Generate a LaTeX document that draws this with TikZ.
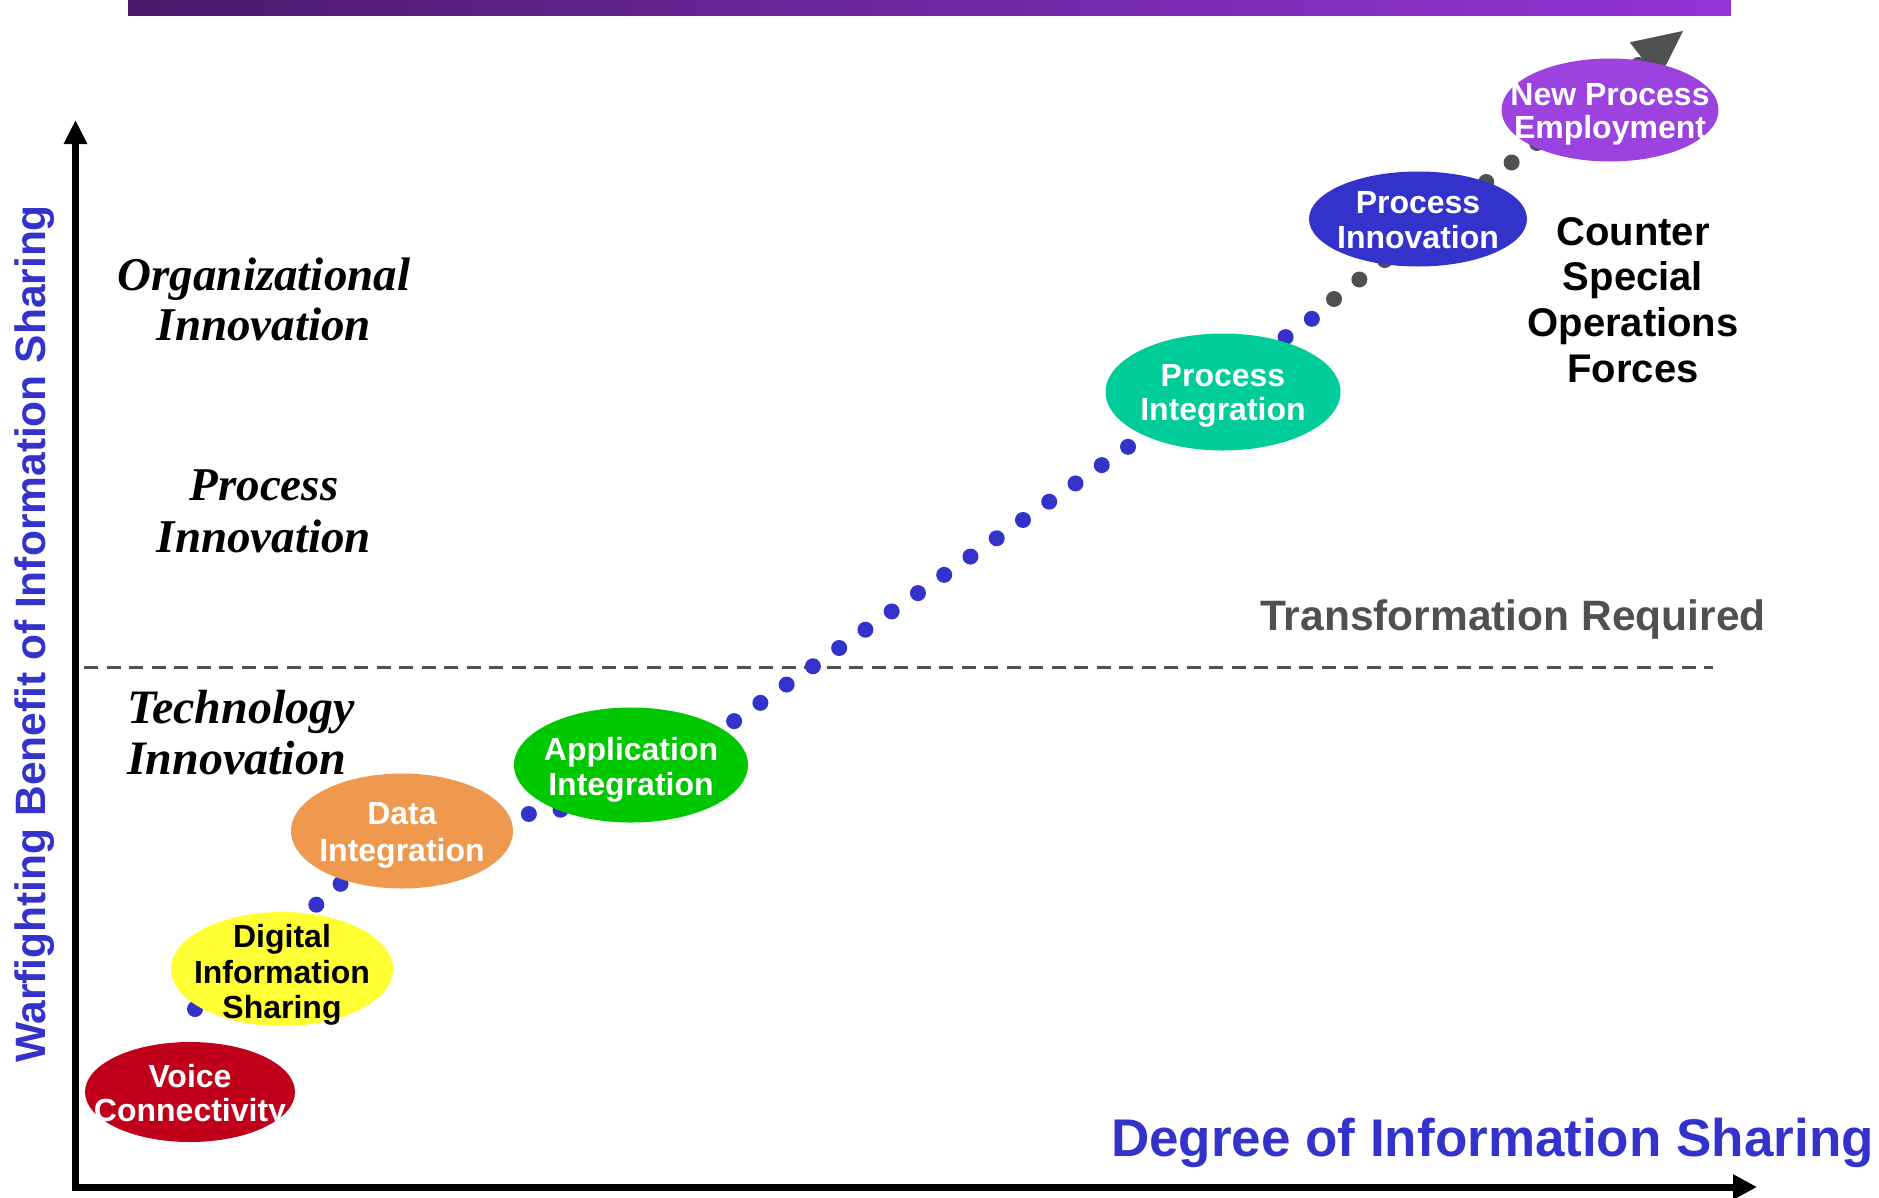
\documentclass[tikz,border=0pt]{standalone}
\usepackage{fontspec}
\setmainfont{Liberation Sans}
\newfontfamily\serifbi{Liberation Serif}
\usetikzlibrary{arrows.meta,shapes.geometric,backgrounds}
\definecolor{barleft}{HTML}{4A1A6A}
\definecolor{barright}{HTML}{9335D8}
\definecolor{cvoice}{HTML}{C0001A}
\definecolor{cdigital}{HTML}{FFFF33}
\definecolor{cdata}{HTML}{EE994D}
\definecolor{capp}{HTML}{00C800}
\definecolor{cpint}{HTML}{00CC99}
\definecolor{cpinn}{HTML}{3333CC}
\definecolor{cnew}{HTML}{9C42DE}
\definecolor{dotblue}{HTML}{3333CC}
\definecolor{dotgray}{HTML}{505050}
\begin{document}
\begin{tikzpicture}[x=1pt,y=-1pt,
  blob/.style={ellipse, inner sep=0pt, draw=none},
  etext/.style={text=white, font=\fontsize{32}{34.5}\selectfont\bfseries, align=center, inner sep=0pt, yshift=-4pt},
  bluedots/.style={draw=dotblue, line width=16pt, line cap=round, dash pattern=on 0pt off 32pt},
  graydots/.style={bluedots, draw=dotgray},
  axisline/.style={line width=7pt, line join=miter, draw=black},
  seriflabel/.style={font=\serifbi\bfseries\itshape\fontsize{47}{50}\selectfont, inner sep=0pt},
  sanslabel/.style={font=\fontsize{40}{45.7}\selectfont\bfseries, inner sep=0pt},
]
\useasboundingbox (0,0) rectangle (1879,1197);

% top bar
\shade[left color=barleft, right color=barright] (128,0) rectangle (1731,15.5);

% ellipses
\node[blob, fill=cvoice,   minimum width=210pt, minimum height=100pt] (voice)   at (190,1092) {};
\node[blob, fill=cdigital, minimum width=222pt, minimum height=114pt] (digital) at (282,969) {};
\node[blob, fill=cdata,    minimum width=222pt, minimum height=115pt] (data)    at (402,831) {};
\node[blob, fill=capp,     minimum width=234pt, minimum height=115pt] (app)     at (631,765) {};
\node[blob, fill=cpint,    minimum width=235pt, minimum height=117pt] (pint)    at (1223,392) {};
\node[blob, fill=cpinn,    minimum width=218pt, minimum height=95pt]  (pinn)    at (1418,219) {};
\node[blob, fill=cnew,     minimum width=217pt, minimum height=103pt] (newp)    at (1610,110) {};

\node[etext] (voice-t) at (voice.center) {Voice\\Connectivity};
\node[etext, text=black, font=\fontsize{32}{35.5}\selectfont\bfseries, yshift=-2pt] (digital-t) at (digital.center) {Digital\\Information\\Sharing};
\node[etext, font=\fontsize{32}{37}\selectfont\bfseries] (data-t) at (data.center) {Data\\Integration};
\node[etext, yshift=-1pt] (app-t) at (app.center) {Application\\Integration};
\node[etext] (pint-t) at (pint.center) {Process\\Integration};
\node[etext, yshift=3pt] (pinn-t) at (pinn.center) {Process\\Innovation};
\node[etext, font=\fontsize{32}{33}\selectfont\bfseries] (newp-t) at (newp.center) {New Process\\Employment};

% path coordinates
\coordinate (s0) at (195,1009);
\coordinate (c1) at (618,802);
\coordinate (c2) at (1313,318);
\coordinate (g0) at (1334,299);
\coordinate (ab) at (1645,60);
\coordinate (as) at (1619.8,79.8);
\coordinate (tip) at (1683,31);
\coordinate (dl) at (84,667);
\coordinate (dr) at (1713,667);

\begin{scope}[on background layer]
  \draw[draw=dotgray, line width=3pt, dash pattern=on 14pt off 8.5pt] (dl) -- (dr);
  \draw[bluedots] (s0) -- (data.center);
  \draw[bluedots] (data.center) -- (c1);
  \draw[bluedots, dash phase=18.5pt] (c1) -- (c2);
  \draw[graydots] (g0) -- (ab);
  \draw[draw=dotgray, line width=0.1pt, -{Triangle[length=49pt,width=47pt]}] (as) -- (tip);
\end{scope}

% axes
\coordinate (ytip) at (75.5,120);
\coordinate (orig) at (75.5,1187);
\coordinate (xtip) at (1757,1187);
\draw[axisline, {Triangle[length=24pt,width=22pt]}-{Triangle[length=24pt,width=24pt]}] (ytip) -- (orig) -- (xtip);

% labels
\node[seriflabel, align=center] (org) at (264,299) {Organizational\\Innovation};
\node[seriflabel, align=center, font=\serifbi\bfseries\itshape\fontsize{47}{52}\selectfont] (proc) at (264,511) {Process\\Innovation};
\node[seriflabel, align=left, anchor=west, font=\serifbi\bfseries\itshape\fontsize{48}{51}\selectfont] (tech) at (127,733) {Technology\\Innovation};

\node[sanslabel, align=center] (csof) at (1633,300) {Counter\\Special\\Operations\\Forces};
\node[sanslabel, font=\fontsize{42.5}{46}\selectfont\bfseries, text=dotgray, anchor=base] (trans) at (1513,630) {Transformation Required};
\node[font=\fontsize{53}{56}\selectfont\bfseries, text=dotblue, inner sep=0pt, anchor=base east] (xlabel) at (1874,1156) {Degree of Information Sharing};
\node[font=\fontsize{42.5}{46}\selectfont\bfseries, text=dotblue, inner sep=0pt, anchor=base, rotate=90] (ylabel) at (45.5,634) {Warfighting Benefit of Information Sharing};
\end{tikzpicture}
\end{document}
